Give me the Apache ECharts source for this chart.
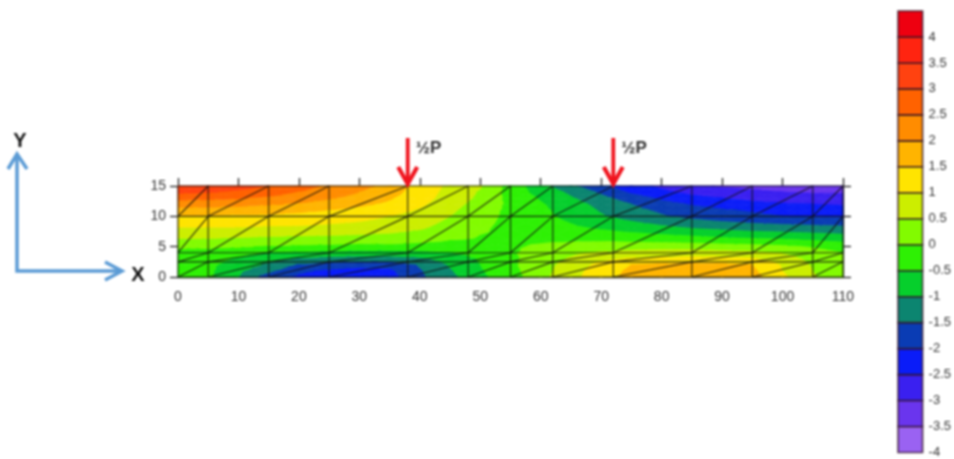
<!DOCTYPE html>
<html><head><meta charset="utf-8">
<script src="https://cdn.jsdelivr.net/npm/echarts@6/dist/echarts.min.js"></script>
<style>html,body{margin:0;padding:0;background:#fff}#c{width:954px;height:459px;filter:blur(0.8px)}</style>
</head><body><div id="c"></div>
<script>
const xSamples=[0,5,10,15,20,25,30,35,40,45,50,55,60,65,70,75,80,85,90,95,100,105,110];
const ySamples=[15,14,13,12,11,10,8,6,5,4,3,2,1,0];
const row15=[3.3,3.3,3.2,3.0,2.7,2.4,2.15,1.85,1.3,.9,.55,-.2,-.8,-1.4,-1.9,-2.3,-2.6,-2.9,-3.05,-3.15,-3.2,-3.2,-3.2];
const row14=[3.1,3.05,2.9,2.75,2.5,2.25,2.0,1.7,1.25,.85,.45,-.2,-.7,-1.1,-1.6,-2.1,-2.4,-2.65,-2.8,-2.9,-3.0,-3.05,-3.05];
const row13=[2.65,2.6,2.55,2.4,2.25,2.05,1.85,1.55,1.2,.8,.4,-.15,-.55,-.95,-1.35,-1.75,-2.1,-2.35,-2.5,-2.65,-2.75,-2.8,-2.85];
const row12=[2.2,2.2,2.15,2.05,1.95,1.75,1.6,1.4,1.1,.7,.3,-.1,-.45,-.8,-1.15,-1.5,-1.8,-2.05,-2.2,-2.35,-2.45,-2.5,-2.55];
const row11=[1.8,1.8,1.75,1.7,1.6,1.5,1.35,1.2,.95,.6,.2,-.1,-.4,-.7,-1.05,-1.35,-1.6,-1.8,-1.95,-2.05,-2.15,-2.2,-2.3];
const row10=[1.45,1.45,1.4,1.4,1.35,1.25,1.15,1.0,.8,.5,.15,-.1,-.35,-.65,-.95,-1.2,-1.45,-1.65,-1.8,-1.9,-2.0,-2.05,-2.1];
const row8=[.95,.95,.95,.9,.9,.85,.8,.7,.55,.3,.05,-.1,-.2,-.4,-.55,-.7,-.85,-1.0,-1.1,-1.2,-1.25,-1.3,-1.35];
const row6=[.4,.4,.35,.3,.25,.25,.2,.2,.1,0,-.05,-.05,-.05,-.05,-.05,-.1,-.15,-.2,-.3,-.35,-.4,-.5,-.6];
const row5=[.1,.1,.05,-.05,-.1,-.15,-.2,-.15,-.2,-.2,-.15,-.05,.05,.15,.25,.3,.3,.3,.25,.2,.1,-.05,-.2];
const row4=[-.2,-.25,-.35,-.5,-.6,-.65,-.7,-.7,-.65,-.5,-.3,-.05,.15,.4,.55,.65,.7,.7,.65,.6,.45,.2,0];
const row3=[-.3,-.35,-.55,-.85,-1.05,-1.2,-1.25,-1.25,-1.1,-.8,-.45,-.1,.25,.55,.85,1.05,1.1,1.15,1.15,1.05,.75,.35,.05];
const row2=[-.3,-.4,-.7,-1.1,-1.55,-1.75,-1.85,-1.85,-1.45,-.95,-.5,-.1,.3,.7,1.15,1.5,1.6,1.65,1.6,1.5,.95,.45,.1];
const row1=[-.3,-.4,-.9,-1.4,-1.9,-2.1,-2.2,-2.1,-1.55,-1.05,-.55,-.15,.3,.8,1.25,1.6,1.7,1.8,1.75,1.6,1.0,.5,.15];
const row0=[-.3,-.4,-1.0,-1.8,-2.1,-2.3,-2.35,-2.2,-1.6,-1.15,-.6,-.25,.35,.85,1.3,1.65,1.8,1.85,1.85,1.7,1.1,.55,.2];
const fieldRows=[row15,row14,row13,row12,row11,row10,row8,row6,row5,row4,row3,row2,row1,row0];
const meshX=[0,5,15,25,38,48,55,62,72,85,95,105,110];
const meshY=[0,2.5,4,10,15];
const loadX=[38,72];
const loadLabel='½P';
const bandEdges=[-4,-3.5,-3,-2.5,-2,-1.5,-1,-.5,0,.5,1,1.5,2,2.5,3,3.5,4,4.5];
const bandColors=['#9a62f2','#6a35ee','#3a20f0','#0a1cf8','#0a3cb4','#0c8570','#06cf2c','#2ef004','#82fb00','#ccee00','#ffe400','#ffb400','#ff8c00','#ff6200','#ff4210','#ff2410','#ee0010'];
const axisGray='#333';
const font='"Liberation Sans",Arial,sans-serif';

const cells=[];
for(let r=0;r<ySamples.length-1;r++)for(let c=0;c<xSamples.length-1;c++){
  cells.push([xSamples[c],ySamples[r],xSamples[c+1],ySamples[r+1],fieldRows[r][c],fieldRows[r][c+1],fieldRows[r+1][c],fieldRows[r+1][c+1]]);
}
function clip(poly,level,keepAbove){
  const out=[];
  for(let i=0;i<poly.length;i++){
    const a=poly[i],b=poly[(i+1)%poly.length];
    const ia=keepAbove?a[2]>=level:a[2]<=level, ib=keepAbove?b[2]>=level:b[2]<=level;
    if(ia)out.push(a);
    if(ia!==ib){const t=(level-a[2])/(b[2]-a[2]);out.push([a[0]+t*(b[0]-a[0]),a[1]+t*(b[1]-a[1]),level]);}
  }
  return out;
}
function renderCell(params,api){
  const x0=api.value(0),y0=api.value(1),x1=api.value(2),y1=api.value(3);
  const a=[x0,y0,api.value(4)],b=[x1,y0,api.value(5)],c=[x0,y1,api.value(6)],d=[x1,y1,api.value(7)];
  const ctr=[(x0+x1)/2,(y0+y1)/2,(a[2]+b[2]+c[2]+d[2])/4];
  const children=[];
  [[a,b,ctr],[b,d,ctr],[d,c,ctr],[c,a,ctr]].forEach(tri=>{
    for(let k=0;k<bandColors.length;k++){
      let p=clip(tri,bandEdges[k],true);
      if(p.length<3)continue;
      p=clip(p,bandEdges[k+1],false);
      if(p.length<3)continue;
      children.push({type:'polygon',shape:{points:p.map(q=>api.coord([q[0],q[1]]))},
        style:{fill:bandColors[k],stroke:bandColors[k],lineWidth:0.7}});
    }
  });
  return {type:'group',children};
}
const segs=[];
meshX.forEach(x=>segs.push([x,0,x,15]));
meshY.forEach(y=>segs.push([0,y,110,y]));
for(let i=0;i<meshX.length-1;i++)for(let j=0;j<meshY.length-1;j++)segs.push([meshX[i],meshY[j],meshX[i+1],meshY[j+1]]);
function renderSeg(params,api){
  const p=api.coord([api.value(0),api.value(1)]),q=api.coord([api.value(2),api.value(3)]);
  return {type:'line',shape:{x1:p[0],y1:p[1],x2:q[0],y2:q[1]},style:{stroke:'#111',lineWidth:1.2,opacity:.85}};
}
function renderLoad(params,api){
  const p=api.coord([api.value(0),15]);
  const tip=[p[0],p[1]-2];
  const red='#f0141e';
  return {type:'group',children:[
    {type:'line',shape:{x1:tip[0],y1:tip[1],x2:tip[0],y2:tip[1]-46},style:{stroke:red,lineWidth:3.8}},
    {type:'polyline',shape:{points:[[tip[0]-9.5,tip[1]-17],tip,[tip[0]+9.5,tip[1]-17]]},style:{stroke:red,fill:null,lineWidth:4.2}},
    {type:'text',x:tip[0]+8,y:tip[1]-36,style:{text:loadLabel,font:'bold 17px '+font,fill:'#333',textAlign:'left',textVerticalAlign:'middle'}}
  ]};
}
const legendData=bandColors.map((col,i)=>[bandEdges[i],bandEdges[i+1],i]);
function renderLegend(params,api){
  const lo=api.coord([0,api.value(0)]),hi=api.coord([1,api.value(1)]);
  return {type:'rect',shape:{x:lo[0],y:hi[1],width:hi[0]-lo[0],height:lo[1]-hi[1]},
    style:{fill:bandColors[api.value(2)],stroke:'rgba(50,20,40,.8)',lineWidth:1.6}};
}
const chart=echarts.init(document.getElementById('c'),null,{renderer:'canvas',width:954,height:459});
const blue='#5b9bd5';
const frameLine={onZero:false,lineStyle:{color:'#222',width:1.3}};
const frameTick={length:8,lineStyle:{color:'#222',width:1.3}};
chart.setOption({
  animation:false,
  backgroundColor:'#fff',
  grid:[{left:178,width:665,top:186,height:91},{left:898,width:29,top:11,height:442}],
  xAxis:[
    {gridIndex:0,type:'value',min:0,max:110,interval:10,position:'bottom',splitLine:{show:false},
     axisLine:frameLine,axisTick:{show:false},
     axisLabel:{color:axisGray,fontSize:14,fontFamily:font,margin:13}},
    {gridIndex:0,type:'value',min:0,max:110,interval:10,position:'top',splitLine:{show:false},
     axisLine:frameLine,axisTick:frameTick,axisLabel:{show:false}},
    {gridIndex:1,type:'value',min:0,max:1,show:false}
  ],
  yAxis:[
    {gridIndex:0,type:'value',min:0,max:15,interval:5,position:'left',splitLine:{show:false},
     axisLine:frameLine,axisTick:frameTick,
     axisLabel:{color:axisGray,fontSize:14,fontFamily:font,margin:12}},
    {gridIndex:0,type:'value',min:0,max:15,interval:5,position:'right',splitLine:{show:false},
     axisLine:frameLine,axisTick:frameTick,axisLabel:{show:false}},
    {gridIndex:1,type:'value',min:-4,max:4.5,interval:.5,position:'right',splitLine:{show:false},
     axisLine:{show:false},axisTick:{show:false},
     axisLabel:{color:axisGray,fontSize:13,fontFamily:font,margin:6,showMaxLabel:false,
       formatter:v=>String(v)}}
  ],
  series:[
    {type:'custom',xAxisIndex:0,yAxisIndex:0,data:cells,renderItem:renderCell,encode:{x:[0,2],y:[1,3]},silent:true,z:2},
    {type:'custom',xAxisIndex:0,yAxisIndex:0,data:segs,renderItem:renderSeg,encode:{x:[0,2],y:[1,3]},silent:true,z:3},
    {type:'custom',xAxisIndex:0,yAxisIndex:0,data:loadX.map(x=>[x]),renderItem:renderLoad,encode:{x:0},silent:true,z:4,clip:false},
    {type:'custom',xAxisIndex:2,yAxisIndex:2,data:legendData,renderItem:renderLegend,encode:{y:[0,1]},silent:true,z:2}
  ],
  graphic:[
    {type:'polyline',shape:{points:[[17,155],[17,271],[121,271]]},style:{stroke:blue,fill:null,lineWidth:3.5}},
    {type:'polyline',shape:{points:[[8,169],[17,154],[27,169]]},style:{stroke:blue,fill:null,lineWidth:3.5}},
    {type:'polyline',shape:{points:[[105,262],[122,271],[105,280]]},style:{stroke:blue,fill:null,lineWidth:3.5}},
    {type:'text',x:20,y:141,style:{text:'Y',font:'bold 20px '+font,fill:'#111',textAlign:'center',textVerticalAlign:'middle'}},
    {type:'text',x:138,y:275,style:{text:'X',font:'bold 20px '+font,fill:'#111',textAlign:'center',textVerticalAlign:'middle'}}
  ]
});
</script></body></html>
